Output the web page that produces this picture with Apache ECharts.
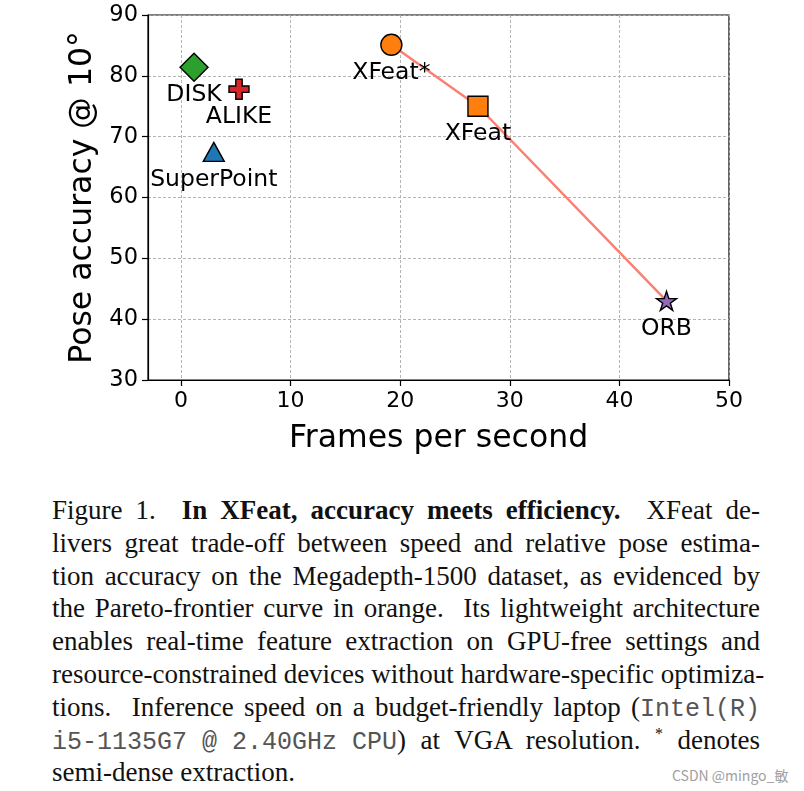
<!DOCTYPE html>
<html>
<head>
<meta charset="utf-8">
<script src="https://cdn.jsdelivr.net/npm/echarts@6/dist/echarts.min.js"></script>
<style>
  html, body { margin: 0; padding: 0; background: #fff; }
  #wrap { position: relative; width: 804px; height: 791px; overflow: hidden; }
  #chart { position: absolute; left: 0; top: 0; width: 804px; height: 470px; }
  #caption { position: absolute; left: 52px; top: 494px; width: 708px;
    font-family: "Liberation Serif", "Times New Roman", serif; font-size: 27px; color: #111; }
  .ln { height: 32.8px; line-height: 32.8px; white-space: nowrap; text-align: justify; text-align-last: justify; }
  .ln.last { text-align: left; text-align-last: left; }
  .mono { font-family: "Liberation Mono", "Courier New", monospace; font-size: 25px; color: #555; display: inline-block; }
  sup { font-size: 16px; vertical-align: 10px; line-height: 0; }
  #wm { position: absolute; left: 672px; top: 765px; font-family: "Noto Sans CJK SC", "Noto Sans", sans-serif;
    font-size: 14px; color: #a0a0a0; white-space: nowrap; }
</style>
</head>
<body>
<div id="wrap">
  <div id="chart"></div>
  <div id="caption">
    <div class="ln">Figure 1.&nbsp; <b>In XFeat, accuracy meets efficiency.</b>&nbsp; XFeat de-</div>
    <div class="ln">livers great trade-off between speed and relative pose estima-</div>
    <div class="ln">tion accuracy on the Megadepth-1500 dataset, as evidenced by</div>
    <div class="ln">the Pareto-frontier curve in orange.&nbsp; Its lightweight architecture</div>
    <div class="ln">enables real-time feature extraction on GPU-free settings and</div>
    <div class="ln">resource-constrained devices without hardware-specific optimiza-</div>
    <div class="ln">tions.&nbsp; Inference speed on a budget-friendly laptop (<span class="mono">Intel(R)</span></div>
    <div class="ln"><span class="mono">i5-1135G7 @ 2.40GHz CPU</span>) at VGA resolution. <sup>*</sup> denotes</div>
    <div class="ln last">semi-dense extraction.</div>
  </div>
  <div id="wm">CSDN @mingo_敏</div>
</div>
<script>
// ---- data ----
const methods = ['DISK', 'ALIKE', 'SuperPoint', 'XFeat*', 'XFeat', 'ORB'];
const fps = [1.2, 5.3, 3.0, 19.2, 27.1, 44.3];
const poseAcc = [81.4, 77.8, 67.5, 85.1, 75.0, 43.0];
const paretoMethods = ['XFeat*', 'XFeat', 'ORB'];
const xTicks = [0, 10, 20, 30, 40, 50];
const yTicks = [30, 40, 50, 60, 70, 80, 90];

// ---- styles ----
const PLUS = 'path://M34,0 H66 V34 H100 V66 H66 V100 H34 V66 H0 V34 H34 Z';
const STAR = 'path://M50,0 L61.2,34.5 L97.6,34.5 L68.2,55.9 L79.4,90.5 L50,69.1 L20.6,90.5 L31.8,55.9 L2.4,34.5 L38.8,34.5 Z';
const markerStyle = {
  'DISK':       { symbol: 'diamond',  size: [28, 28], color: '#2ca02c' },
  'ALIKE':      { symbol: PLUS,       size: [20, 20], color: '#d62728' },
  'SuperPoint': { symbol: 'triangle', size: [21, 19], color: '#1f77b4' },
  'XFeat*':     { symbol: 'circle',   size: [21, 21], color: '#ff7f0e' },
  'XFeat':      { symbol: 'rect',     size: [20, 20], color: '#ff7f0e' },
  'ORB':        { symbol: STAR,       size: [20, 19], color: '#9467bd' }
};

const scatterData = methods.map((m, i) => {
  const st = markerStyle[m];
  return {
    name: m,
    value: [fps[i], poseAcc[i]],
    symbol: st.symbol,
    symbolSize: st.size,
    itemStyle: { color: st.color, borderColor: '#000', borderWidth: 1.4, opacity: 1 }
  };
});
const paretoData = paretoMethods.map(m => {
  const i = methods.indexOf(m);
  return [fps[i], poseAcc[i]];
});

const FONT = 'DejaVu Sans';
const chart = echarts.init(document.getElementById('chart'), null, { renderer: 'canvas' });
chart.setOption({
  animation: false,
  backgroundColor: '#fff',
  grid: { left: 148, top: 15, width: 581, height: 365, show: true, borderColor: '#000', borderWidth: 1.2, backgroundColor: 'transparent' },
  xAxis: {
    type: 'value', min: -3, max: 50,
    name: 'Frames per second', nameLocation: 'middle', nameGap: 43,
    nameTextStyle: { fontFamily: FONT, fontSize: 31.5, color: '#000' },
    axisLine: { show: true, onZero: false, lineStyle: { color: '#000', width: 1.2 } },
    axisTick: { show: true, length: 6, customValues: xTicks, lineStyle: { color: '#000', width: 1.2 } },
    axisLabel: { customValues: xTicks, margin: 10, fontFamily: FONT, fontSize: 22, color: '#000' },
    splitLine: { show: true, lineStyle: { color: '#aaaaaa', width: 0.9, type: [3, 2] } }
  },
  yAxis: {
    type: 'value', min: 30, max: 90, interval: 10,
    name: 'Pose accuracy @ 10°', nameLocation: 'middle', nameGap: 47,
    nameTextStyle: { fontFamily: FONT, fontSize: 31.5, color: '#000' },
    axisLine: { show: true, onZero: false, lineStyle: { color: '#000', width: 1.2 } },
    axisTick: { show: true, length: 6, customValues: yTicks, lineStyle: { color: '#000', width: 1.2 } },
    axisLabel: { customValues: yTicks, margin: 10, fontFamily: FONT, fontSize: 22.5, color: '#000' },
    splitLine: { show: true, lineStyle: { color: '#aaaaaa', width: 0.9, type: [3, 2] } }
  },
  series: [
    {
      type: 'line', data: paretoData, symbol: 'none', z: 2,
      lineStyle: { color: '#fa8072', width: 2.5 }
    },
    {
      type: 'scatter', data: scatterData, z: 3,
      label: {
        show: true, position: 'inside', offset: [0, 28], formatter: '{b}',
        fontFamily: FONT, fontSize: 23.5, color: '#000'
      }
    }
  ]
});
</script>
</body>
</html>
